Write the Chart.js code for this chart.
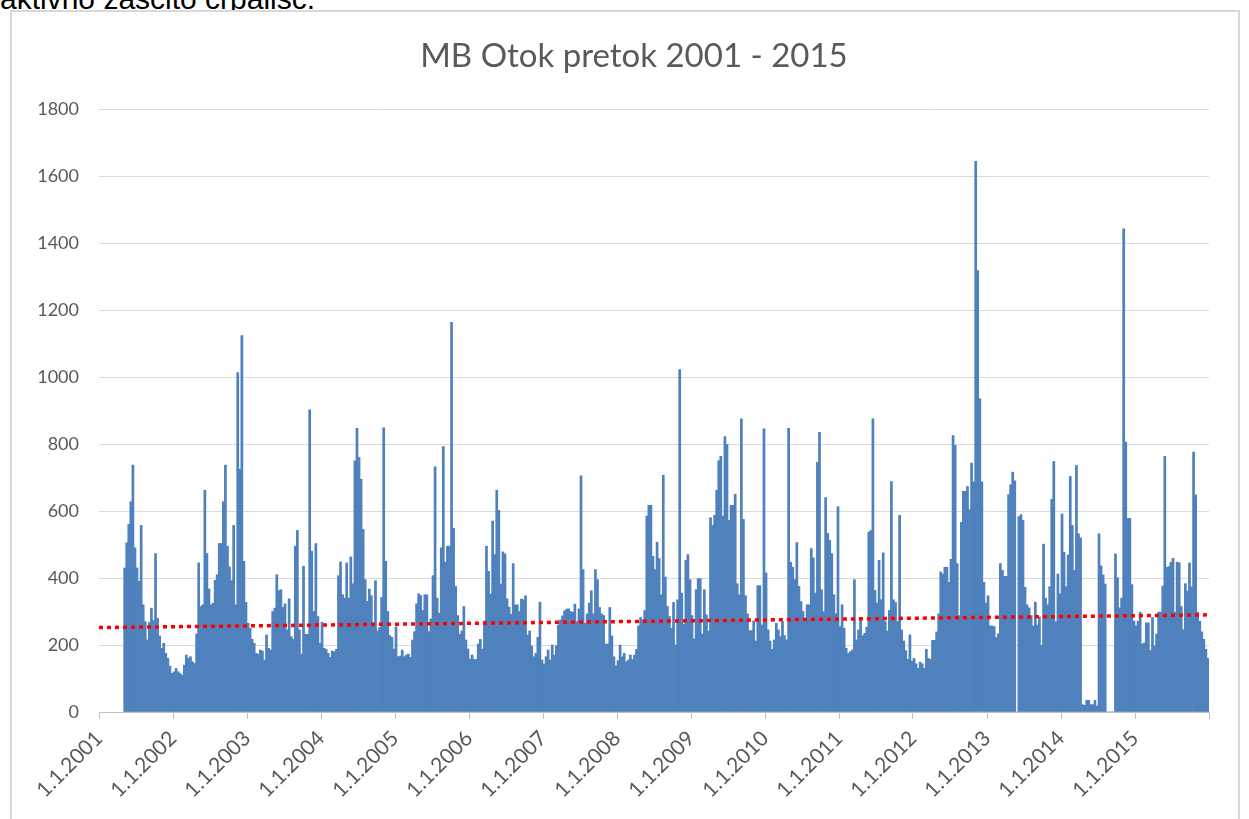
<!DOCTYPE html>
<html>
<head>
<meta charset="utf-8">
<script src="https://cdn.jsdelivr.net/npm/chart.js@4.4.1/dist/chart.umd.min.js"></script>
<style>
  body { margin: 0; width: 1249px; height: 819px; overflow: hidden; background: #fff; position: relative; }
  #note { position: absolute; left: 0; top: -16px; font: 30px/30px "Liberation Sans", Arial, sans-serif; color: #000; white-space: nowrap; }
  #frame { position: absolute; left: 10px; top: 10px; width: 1226px; height: 840px; border: 2px solid #d9d9d9; background: #fff; }
  #chart { position: absolute; left: 0; top: 0; }
  #title { position: absolute; left: 334px; top: 38px; width: 600px; text-align: center; font: 33px/32px Lato, sans-serif; color: #595959; }
</style>
</head>
<body>
<div id="note">aktivno zaščito črpališč.</div>
<div id="frame"></div>
<canvas id="chart" width="1249" height="819"></canvas>
<div id="title">MB Otok pretok 2001 - 2015</div>
<script>
// ten-day steps, 36 per year
const binsPerYear = 36;
const years = [2001, 2002, 2003, 2004, 2005, 2006, 2007, 2008, 2009, 2010, 2011, 2012, 2013, 2014, 2015];

const flow2001 = [null, null, null, null, null, null, null, null, null, null, null, null,
  430, 505, 560, 628, 737, 490, 430, 390, 557, 320, 270, 215, 267, 310, 273, 473, 280, 227, 190, 205, 175, 160, 137, 115];
const flow2002 = [120, 130, 120, 115, 110, 140, 170, 160, 165, 150, 145, 233, 445, 315, 320, 662, 473, 367,
  320, 325, 393, 410, 503, 503, 628, 737, 495, 433, 392, 557, 320, 1013, 725, 1124, 450, 327];
const flow2003 = [265, 250, 217, 205, 175, 172, 185, 182, 155, 230, 190, 185, 300, 310, 410, 362, 365, 312,
  323, 245, 338, 225, 217, 495, 542, 245, 173, 435, 232, 232, 902, 480, 300, 503, 285, 205];
const flow2004 = [268, 190, 187, 175, 163, 182, 180, 187, 407, 448, 350, 340, 445, 340, 463, 383, 750, 847,
  760, 695, 545, 395, 330, 367, 347, 267, 392, 242, 252, 342, 848, 450, 300, 228, 223, 188];
const flow2005 = [254, 165, 167, 185, 165, 170, 173, 163, 215, 240, 323, 353, 348, 303, 350, 350, 240, 278,
  407, 732, 340, 295, 490, 792, 447, 495, 495, 1163, 548, 375, 288, 232, 242, 315, 215, 188];
const flow2006 = [158, 170, 157, 157, 203, 217, 188, 272, 495, 420, 352, 570, 470, 662, 602, 382, 478, 472,
  338, 313, 292, 443, 320, 320, 300, 337, 335, 347, 230, 242, 197, 165, 175, 223, 328, 155];
const flow2007 = [143, 165, 185, 155, 200, 170, 198, 260, 275, 287, 302, 307, 308, 300, 298, 322, 270, 308,
  705, 425, 265, 293, 325, 362, 293, 425, 395, 312, 293, 288, 203, 203, 312, 227, 165, 138];
const flow2008 = [153, 200, 165, 175, 150, 155, 170, 157, 170, 187, 257, 282, 275, 303, 585, 617, 617, 465,
  425, 507, 458, 350, 707, 403, 315, 285, 250, 327, 200, 335, 1022, 355, 262, 453, 470, 395];
const flow2009 = [288, 218, 365, 398, 398, 233, 365, 290, 242, 580, 557, 587, 662, 750, 763, 585, 822, 799,
  572, 617, 617, 650, 383, 350, 875, 575, 347, 293, 243, 243, 272, 212, 377, 377, 260, 845];
const flow2010 = [415, 245, 212, 187, 215, 265, 245, 225, 270, 228, 215, 847, 447, 432, 395, 506, 375, 330,
  300, 270, 320, 320, 488, 460, 355, 745, 835, 365, 300, 640, 533, 512, 473, 350, 293, 613];
const flow2011 = [255, 320, 250, 190, 175, 180, 185, 395, 215, 245, 280, 228, 235, 253, 537, 542, 875, 363,
  325, 453, 335, 475, 270, 242, 303, 688, 335, 327, 270, 587, 245, 212, 183, 157, 230, 152];
const flow2012 = [160, 144, 130, 149, 144, 130, 187, 160, 157, 214, 214, 239, 293, 418, 412, 432, 432, 387,
  456, 825, 796, 443, 288, 566, 659, 659, 673, 604, 743, 687, 1644, 1318, 935, 687, 387, 325];
const flow2013 = [347, 257, 257, 255, 222, 233, 443, 423, 405, 405, 649, 678, 716, 690, 0, 583, 589, 572,
  372, 320, 311, 288, 257, 328, 260, 284, 199, 501, 340, 320, 374, 635, 748, 269, 412, 353];
const flow2014 = [591, 477, 374, 469, 703, 557, 423, 736, 532, 520, 22, 20, 35, 35, 22, 22, 35, 18,
  532, 436, 409, 382, 0, 0, 0, 0, 472, 401, 311, 340, 1442, 806, 578, 578, 380, 271];
const flow2015 = [257, 271, 298, 203, 206, 266, 266, 184, 282, 197, 233, 298, 298, 376, 763, 432, 434, 447,
  459, 298, 447, 445, 315, 246, 383, 361, 445, 374, 776, 648, 298, 271, 239, 217, 187, 160];

const flowByYear = [flow2001, flow2002, flow2003, flow2004, flow2005, flow2006, flow2007, flow2008,
  flow2009, flow2010, flow2011, flow2012, flow2013, flow2014, flow2015];

const tickLabels = ['1.1.2001', '1.1.2002', '1.1.2003', '1.1.2004', '1.1.2005', '1.1.2006', '1.1.2007',
  '1.1.2008', '1.1.2009', '1.1.2010', '1.1.2011', '1.1.2012', '1.1.2013', '1.1.2014', '1.1.2015'];

// linear trend, start and end value
const trendEnds = [252, 290];

const barPoints = [];
years.forEach((yr, k) => {
  flowByYear[k].forEach((v, i) => {
    if (v !== null) barPoints.push({ x: yr + (i + 0.5) / binsPerYear, y: v });
  });
});
const firstYear = years[0];
const lastYear = years[years.length - 1] + 1;
const trendPoints = [{ x: firstYear, y: trendEnds[0] }, { x: lastYear, y: trendEnds[1] }];

new Chart(document.getElementById('chart'), {
  data: {
    datasets: [{
      type: 'line',
      data: trendPoints,
      borderColor: '#ff0000',
      borderWidth: 3.5,
      borderDash: [4, 4],
      pointRadius: 0,
      order: 0
    }, {
      type: 'bar',
      data: barPoints,
      backgroundColor: '#4f81bd',
      barPercentage: 1,
      categoryPercentage: 1,
      order: 1
    }]
  },
  options: {
    responsive: false,
    animation: false,
    devicePixelRatio: 1,
    layout: { padding: { top: 109, right: 40, left: 0, bottom: 0 } },
    plugins: {
      legend: { display: false },
      tooltip: { enabled: false }
    },
    scales: {
      x: {
        type: 'linear',
        offset: false,
        min: firstYear,
        max: lastYear,
        afterFit: s => { s.height = 107; },
        ticks: {
          stepSize: 1,
          autoSkip: false,
          minRotation: 45,
          maxRotation: 45,
          padding: 7,
          color: '#595959',
          font: { family: 'Lato', size: 21 },
          callback: v => tickLabels[v - firstYear] || ''
        },
        grid: { offset: false, drawOnChartArea: false, tickLength: 7, color: '#bfbfbf' },
        border: { color: '#bfbfbf' }
      },
      y: {
        min: 0,
        max: 1800,
        afterFit: s => { s.width = 99; },
        ticks: { stepSize: 200, padding: 20, color: '#595959', font: { family: 'Lato', size: 18 }, callback: v => String(v) },
        grid: { color: '#d9d9d9', drawTicks: false },
        border: { display: false }
      }
    }
  }
});
</script>
</body>
</html>
